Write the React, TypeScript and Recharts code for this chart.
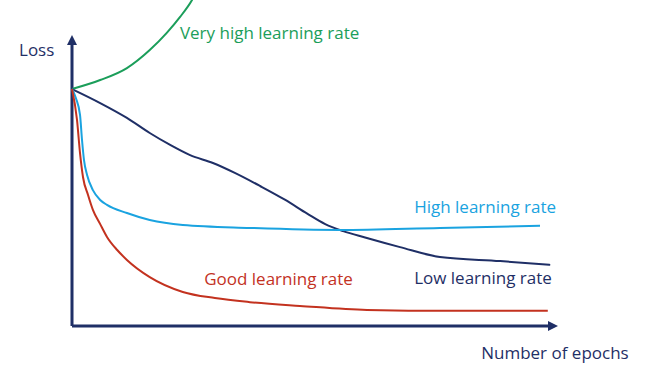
import {LineChart, Line, XAxis, YAxis, ReferenceLine, ReferenceDot} from 'recharts';

// epochs on x (0..100), loss on y (0..100 drawn, top cut at 112)
const veryHigh = [
    {x: 0, y: 81.4}, {x: 5.8, y: 84.5}, {x: 11.3, y: 88.6}, {x: 16.0, y: 94.8},
    {x: 19.5, y: 100.7}, {x: 22.2, y: 106.1}, {x: 24.7, y: 112}, {x: 26.5, y: 118},
];

const lowRate = [
    {x: 0, y: 81.4}, {x: 5.8, y: 76.6}, {x: 11.3, y: 71.5}, {x: 16.0, y: 66.3},
    {x: 20.2, y: 62.2}, {x: 24.3, y: 58.7}, {x: 29.0, y: 56.0}, {x: 33.5, y: 52.6},
    {x: 38.7, y: 48.1}, {x: 43.8, y: 43.4}, {x: 48.4, y: 38.6}, {x: 52.1, y: 35.0},
    {x: 55.8, y: 32.6}, {x: 60.3, y: 30.4}, {x: 67.5, y: 27.1}, {x: 75.7, y: 23.7},
    {x: 88.1, y: 22.3}, {x: 98.4, y: 21.0},
];

const highRate = [
    {x: 0, y: 81.4}, {x: 0.8, y: 78.3}, {x: 1.65, y: 72.5}, {x: 2.06, y: 63.9},
    {x: 2.47, y: 57.0}, {x: 3.1, y: 51.9}, {x: 4.3, y: 46.7}, {x: 5.8, y: 43.3},
    {x: 7.2, y: 41.6}, {x: 11.3, y: 38.8}, {x: 16.0, y: 36.4}, {x: 22.8, y: 34.7},
    {x: 36.6, y: 33.7}, {x: 55.1, y: 33.0}, {x: 75.7, y: 33.7}, {x: 96.3, y: 34.4},
];

const goodRate = [
    {x: 0, y: 81.4}, {x: 1.03, y: 70.8}, {x: 1.65, y: 59.4}, {x: 2.26, y: 51.2},
    {x: 3.3, y: 45.0}, {x: 4.3, y: 39.9}, {x: 5.8, y: 35.0}, {x: 7.2, y: 30.6},
    {x: 9.3, y: 26.1}, {x: 11.3, y: 22.7}, {x: 16.0, y: 16.8}, {x: 22.8, y: 11.7},
    {x: 29.4, y: 9.6}, {x: 36.6, y: 8.2}, {x: 46.9, y: 6.9}, {x: 60.7, y: 5.5},
    {x: 77.8, y: 5.2}, {x: 97.9, y: 5.2},
];

const seriesLabels = ['Very high learning rate', 'High learning rate', 'Good learning rate', 'Low learning rate'];
const axisLabels = ['Loss', 'Number of epochs'];

const NAVY = '#1f2f66';
const GREEN = '#1b9e5a';
const BLUE = '#1aa3e0';
const RED = '#c3321f';

// label anchor points (left / baseline) in data units
const annotations = [
    {text: seriesLabels[0], x: 22.2, y: 98.6, color: GREEN},
    {text: seriesLabels[1], x: 70.4, y: 38.8, color: BLUE},
    {text: seriesLabels[2], x: 27.2, y: 14.1, color: RED},
    {text: seriesLabels[3], x: 70.4, y: 14.4, color: NAVY},
    {text: axisLabels[0], x: -10.9, y: 92.8, color: NAVY},
    {text: axisLabels[1], x: 84.2, y: -11.3, color: NAVY},
];

const textShape = (text: string, color: string) => (p: any) => (
    <text x={p.cx} y={p.cy} fill={color} fontSize={17} fontFamily="'Open Sans', sans-serif">
        {text}
    </text>
);

const arrowUp = (p: any) => (
    <polygon points={`${p.cx - 5},${p.cy + 10} ${p.cx + 5},${p.cy + 10} ${p.cx},${p.cy}`} fill={NAVY}/>
);
const arrowRight = (p: any) => (
    <polygon points={`${p.cx - 10},${p.cy - 5} ${p.cx - 10},${p.cy + 5} ${p.cx},${p.cy}`} fill={NAVY}/>
);

export default function App() {
    return (
        <div style={{position: 'absolute', left: 0, top: 0, width: 658, height: 370, background: '#fff'}}>
            <LineChart width={658} height={370} margin={{top: 0, right: 100, bottom: 44, left: 72}}>
                <XAxis type="number" dataKey="x" domain={[0, 100]} hide/>
                <YAxis type="number" dataKey="y" domain={[0, 112]} allowDataOverflow hide/>

                <ReferenceLine segment={[{x: 0, y: 0}, {x: 0, y: 97}]} stroke={NAVY} strokeWidth={3} ifOverflow="visible"/>
                <ReferenceLine segment={[{x: 0, y: 0}, {x: 98, y: 0}]} stroke={NAVY} strokeWidth={3} ifOverflow="visible"/>
                <ReferenceDot x={0} y={100} shape={arrowUp} ifOverflow="visible"/>
                <ReferenceDot x={100} y={0} shape={arrowRight} ifOverflow="visible"/>

                <Line data={veryHigh} dataKey="y" type="monotone" stroke={GREEN} strokeWidth={2} dot={false} isAnimationActive={false}/>
                <Line data={lowRate} dataKey="y" type="monotone" stroke={NAVY} strokeWidth={2} dot={false} isAnimationActive={false}/>
                <Line data={highRate} dataKey="y" type="monotone" stroke={BLUE} strokeWidth={2} dot={false} isAnimationActive={false}/>
                <Line data={goodRate} dataKey="y" type="monotone" stroke={RED} strokeWidth={2} dot={false} isAnimationActive={false}/>

                {annotations.map(a => (
                    <ReferenceDot key={a.text} x={a.x} y={a.y} shape={textShape(a.text, a.color)} ifOverflow="visible"/>
                ))}
            </LineChart>
        </div>
    );
}
